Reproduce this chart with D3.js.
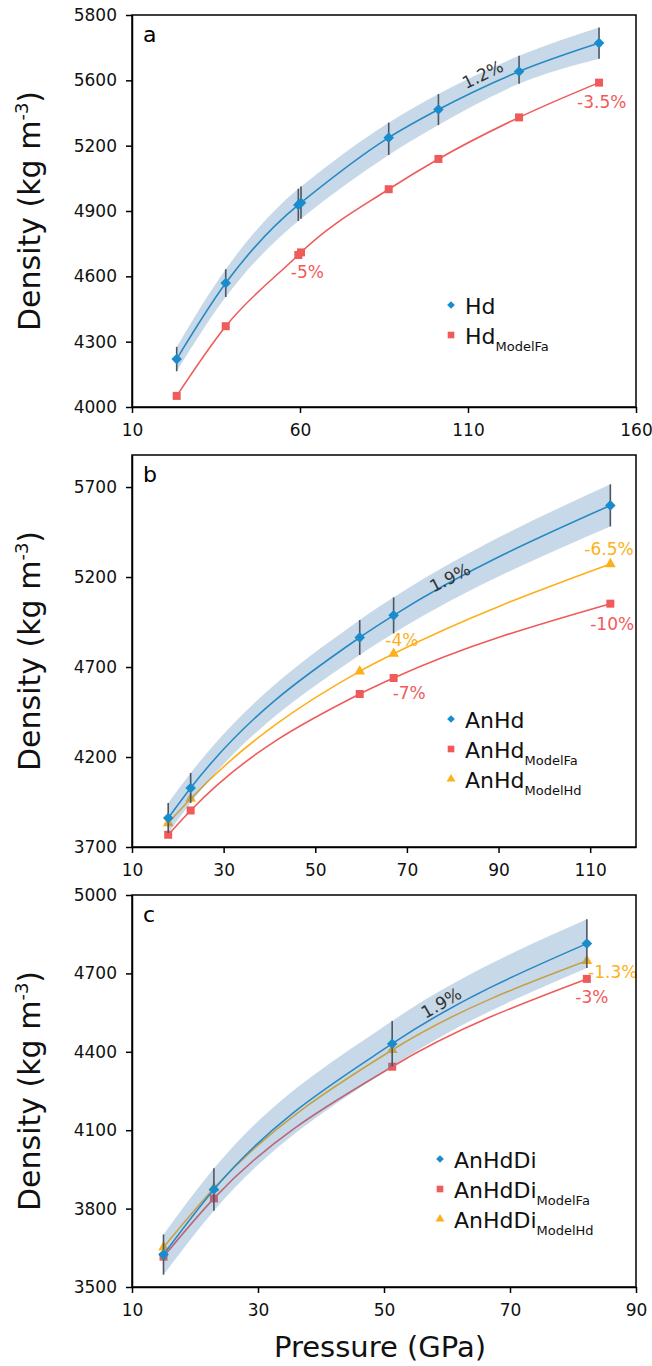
<!DOCTYPE html>
<html lang="en">
<head>
<meta charset="UTF-8">
<title>Density vs pressure</title>
<script src="https://cdn.jsdelivr.net/npm/d3@7"></script>
<style>
    body { margin: 0; background: #fff; }
    text { font-family: "DejaVu Sans", Verdana, sans-serif; }
    .axis path, .axis line { stroke: #000; stroke-width: 1.5px; }
    .axis text { font-size: 17px; fill: #111; }
</style>
</head>
<body>
<script>
    // ---- panel a : Hd ----
    const aPressure = [23.3, 37.9, 59.5, 60.3, 86.4, 101.2, 125.2, 149.0];
    const aHd = [4220, 4569, 4928, 4938, 5249, 5421, 5627, 5714];
    const aHdErr = [56, 64, 74, 74, 92, 95, 48, 48];
    const aModelFa = [4051, 4371, 4698, 4710, 5000, 5139, 5373, 5586];
    const aYTicks = [4000, 4300, 4600, 4900, 5200, 5600, 5800];
    const aXTicks = [10, 60, 110, 160];

    // ---- panel b : AnHd ----
    const bPressure = [17.9, 22.8, 59.7, 67.1, 114.4];
    const bHd = [3861, 4028, 4864, 4987, 5598];
    const bHdErr = [83, 83, 97, 100, 117];
    const bModelFa = [3768, 3903, 4550, 4639, 5052];
    const bModelHd = [3833, 3968, 4676, 4774, 5272];
    const bYTicks = [3700, 4200, 4700, 5200, 5700];
    const bXTicks = [10, 30, 50, 70, 90, 110];

    // ---- panel c : AnHdDi ----
    const cPressure = [15.0, 23.0, 51.3, 82.2];
    const cHd = [3624, 3873, 4431, 4814];
    const cHdErr = [77, 81, 87, 93];
    const cModelFa = [3616, 3839, 4343, 4679];
    const cModelHd = [3652, 3878, 4407, 4748];
    const cYTicks = [3500, 3800, 4100, 4400, 4700, 5000];
    const cXTicks = [10, 30, 50, 70, 90];

    const blue = "#1b8ccb", red = "#ef5b5b", gold = "#fdb01a";
    const W = 652, H = 1366, left = 132, right = 636;

    const svg = d3.select("body").append("svg").attr("width", W).attr("height", H);

    function drawPanel(cfg) {
        const x = d3.scaleLinear().domain(cfg.xDomain).range([left, right]);
        const y = cfg.y;
        const top = cfg.top, bottom = cfg.bottom;
        const g = svg.append("g");
        const line = d3.line().x(d => x(d[0])).y(d => y(d[1])).curve(d3.curveMonotoneX);

        // model series (under the band)
        cfg.models.forEach(m => {
            const pts = cfg.pressure.map((p, i) => [p, m.values[i]]);
            g.append("path").attr("d", line(pts)).attr("fill", "none")
                .attr("stroke", m.color).attr("stroke-width", 1.6);
            g.selectAll(null).data(pts).enter().append("path")
                .attr("transform", d => `translate(${x(d[0])},${y(d[1])})`)
                .attr("d", d3.symbol(m.shape, m.size))
                .attr("fill", m.color);
        });

        // measured series
        const hdPts = cfg.pressure.map((p, i) => [p, cfg.hd[i], cfg.err[i]]);
        g.append("path").attr("d", line(hdPts)).attr("fill", "none")
            .attr("stroke", blue).attr("stroke-width", 1.6);

        const band = d3.area()
            .x(d => x(d[0]))
            .y0(d => y(d[1] - d[2]))
            .y1(d => y(d[1] + d[2]))
            .curve(d3.curveMonotoneX);
        g.append("path").attr("d", band(hdPts))
            .attr("fill", "steelblue").attr("fill-opacity", 0.3);

        g.selectAll(null).data(hdPts).enter().append("line")
            .attr("x1", d => x(d[0])).attr("x2", d => x(d[0]))
            .attr("y1", d => y(d[1] - d[2])).attr("y2", d => y(d[1] + d[2]))
            .attr("stroke", "#4d5560").attr("stroke-width", 1.6);

        g.selectAll(null).data(hdPts).enter().append("path")
            .attr("transform", d => `translate(${x(d[0])},${y(d[1])}) rotate(45)`)
            .attr("d", d3.symbol(d3.symbolSquare, 56))
            .attr("fill", blue);

        // percentage notes
        cfg.notes.forEach(n => {
            g.append("text")
                .attr("transform", `translate(${x(n.x)},${y(n.y)}) rotate(${n.angle || 0})`)
                .attr("text-anchor", "middle").attr("dy", "0.35em")
                .attr("font-size", 17).attr("fill", n.color)
                .text(n.text);
        });

        // frame + axes
        g.append("rect").attr("x", left).attr("y", top)
            .attr("width", right - left).attr("height", bottom - top)
            .attr("fill", "none").attr("stroke", "#000").attr("stroke-width", 1.5);

        g.append("g").attr("class", "axis")
            .attr("transform", `translate(0,${bottom})`)
            .call(d3.axisBottom(x).tickValues(cfg.xTicks).tickSizeOuter(0).tickPadding(11));
        g.append("g").attr("class", "axis")
            .attr("transform", `translate(${left},0)`)
            .call(d3.axisLeft(y).tickValues(cfg.yTicks).tickFormat(d3.format("d"))
                .tickSizeOuter(0).tickPadding(9));

        // panel letter
        g.append("text").attr("x", left + 11).attr("y", top + 27)
            .attr("font-size", 22).text(cfg.letter);

        // y title
        const yt = g.append("text")
            .attr("transform", `translate(40,${(top + bottom) / 2}) rotate(-90)`)
            .attr("text-anchor", "middle").attr("font-size", 30).attr("fill", "#111");
        yt.append("tspan").text("Density (kg m");
        yt.append("tspan").attr("font-size", 18).attr("dy", -12).text("-3");
        yt.append("tspan").attr("dy", 12).text(")");

        // legend
        const lg = g.append("g").attr("transform", `translate(${cfg.legend[0]},${cfg.legend[1]})`);
        cfg.legendItems.forEach((it, i) => {
            const row = lg.append("g").attr("transform", `translate(0,${i * 30})`);
            row.append("path")
                .attr("transform", it.shape === "diamond" ? "rotate(45)" : null)
                .attr("d", d3.symbol(it.shape === "triangle" ? d3.symbolTriangle : d3.symbolSquare,
                    it.shape === "diamond" ? 30 : it.shape === "triangle" ? 34 : 44))
                .attr("fill", it.color);
            const t = row.append("text").attr("x", 14).attr("y", 9)
                .attr("font-size", 22).attr("fill", "#111");
            t.append("tspan").text(it.name);
            if (it.sub) t.append("tspan").attr("font-size", 13).attr("dy", 7).text(it.sub);
        });
    }

    // panel a: evenly spaced ticks with uneven labels, as printed
    const aY = d3.scaleLinear().domain(aYTicks)
        .range(aYTicks.map((d, i) => 407 - i * (407 - 15) / (aYTicks.length - 1)));

    drawPanel({
        letter: "a", top: 15, bottom: 407,
        xDomain: [10, 160], xTicks: aXTicks, yTicks: aYTicks, y: aY,
        pressure: aPressure, hd: aHd, err: aHdErr,
        models: [{values: aModelFa, color: red, shape: d3.symbolSquare, size: 64}],
        notes: [
            {text: "1.2%", x: 114.4, y: 5618, color: "#333", angle: -26},
            {text: "-3.5%", x: 149.8, y: 5464, color: red},
            {text: "-5%", x: 62.2, y: 4621, color: red}
        ],
        legend: [451, 305],
        legendItems: [
            {name: "Hd", color: blue, shape: "diamond"},
            {name: "Hd", sub: "ModelFa", color: red, shape: "square"}
        ]
    });

    drawPanel({
        letter: "b", top: 455, bottom: 847,
        xDomain: [10, 120], xTicks: bXTicks, yTicks: bYTicks,
        y: d3.scaleLinear().domain([3700, 5878]).range([847, 455]),
        pressure: bPressure, hd: bHd, err: bHdErr,
        models: [
            {values: bModelFa, color: red, shape: d3.symbolSquare, size: 64},
            {values: bModelHd, color: gold, shape: d3.symbolTriangle, size: 50}
        ],
        notes: [
            {text: "1.9%", x: 79.4, y: 5196, color: "#333", angle: -27},
            {text: "-6.5%", x: 114.1, y: 5357, color: gold},
            {text: "-10%", x: 114.8, y: 4940, color: red},
            {text: "-4%", x: 68.9, y: 4852, color: gold},
            {text: "-7%", x: 70.5, y: 4557, color: red}
        ],
        legend: [451, 719],
        legendItems: [
            {name: "AnHd", color: blue, shape: "diamond"},
            {name: "AnHd", sub: "ModelFa", color: red, shape: "square"},
            {name: "AnHd", sub: "ModelHd", color: gold, shape: "triangle"}
        ]
    });

    drawPanel({
        letter: "c", top: 895, bottom: 1287,
        xDomain: [10, 90], xTicks: cXTicks, yTicks: cYTicks,
        y: d3.scaleLinear().domain([3500, 5000]).range([1287, 895]),
        pressure: cPressure, hd: cHd, err: cHdErr,
        models: [
            {values: cModelFa, color: red, shape: d3.symbolSquare, size: 64},
            {values: cModelHd, color: gold, shape: d3.symbolTriangle, size: 50}
        ],
        notes: [
            {text: "1.9%", x: 59.1, y: 4587, color: "#333", angle: -30},
            {text: "-1.3%", x: 86.3, y: 4705, color: gold},
            {text: "-3%", x: 83.0, y: 4611, color: red}
        ],
        legend: [440, 1159],
        legendItems: [
            {name: "AnHdDi", color: blue, shape: "diamond"},
            {name: "AnHdDi", sub: "ModelFa", color: red, shape: "square"},
            {name: "AnHdDi", sub: "ModelHd", color: gold, shape: "triangle"}
        ]
    });

    // x title
    svg.append("text").attr("x", 380).attr("y", 1357)
        .attr("text-anchor", "middle").attr("font-size", 29).attr("fill", "#111")
        .text("Pressure (GPa)");
</script>
</body>
</html>
